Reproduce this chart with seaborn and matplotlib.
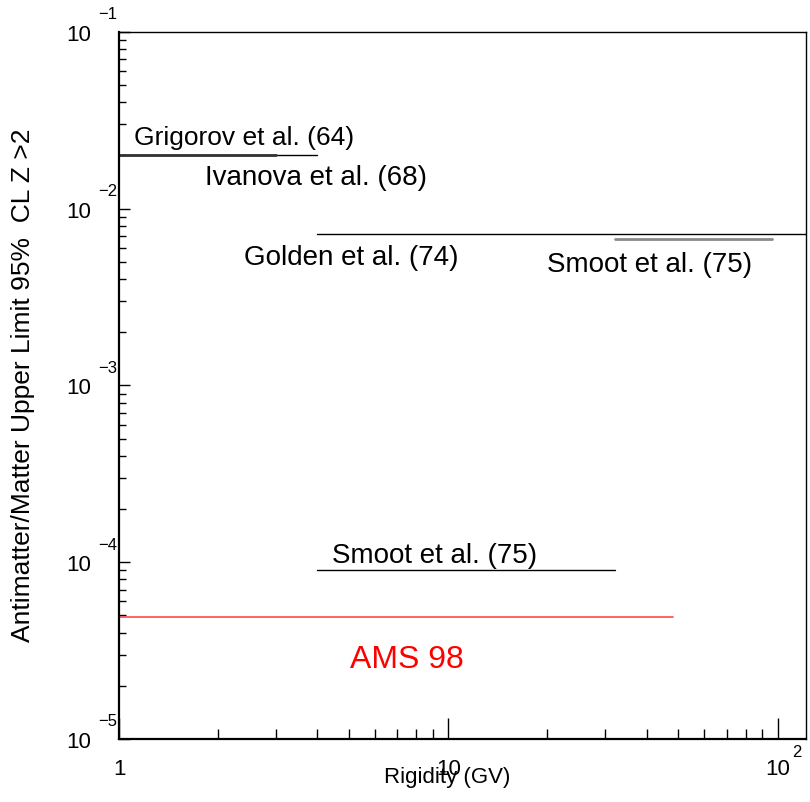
import numpy as np
import pandas as pd
import matplotlib
matplotlib.use("Agg")
import matplotlib.pyplot as plt
import seaborn as sns

# upper limits on antimatter/matter (Z>2), 95% CL
experiments = ["Grigorov et al. (64)", "Ivanova et al. (68)", "Golden et al. (74)",
               "Smoot et al. (75)", "Smoot et al. (75)", "AMS 98"]
rig_lo = [1.0, 1.0, 4.0, 32.0, 4.0, 1.0]
rig_hi = [3.0, 4.0, 200.0, 96.0, 32.0, 48.0]
limits = [2.0e-2, 2.0e-2, 7.2e-3, 6.75e-3, 9.0e-5, 4.9e-5]

# label anchors (left, baseline)
label_x = [1.11, 1.82, 2.40, 19.9, 4.43, 5.03]
label_y = [2.32e-2, 1.38e-2, 4.86e-3, 4.45e-3, 1.0e-4, 2.55e-5]

x_ticks = [1, 10, 100]
x_tick_text = ["1", "10", "10"]
x_tick_exp = ["", "", "2"]
y_ticks = [1e-5, 1e-4, 1e-3, 1e-2, 1e-1]
y_tick_exp = ["\u22125", "\u22124", "\u22123", "\u22122", "\u22121"]

sns.set_style("ticks", {"axes.edgecolor": "black", "xtick.color": "black",
                        "ytick.color": "black", "text.color": "black",
                        "axes.labelcolor": "black"})
plt.rcParams["font.family"] = ["Liberation Sans", "DejaVu Sans"]
narrow = ["Liberation Sans Narrow", "Liberation Sans", "DejaVu Sans"]

fig = plt.figure(figsize=(8.1, 8.03), dpi=100)
ax = fig.add_axes([0.147, 0.0785, 0.848, 0.8805])

# line styles per experiment
colors = ["#333333", "black", "black", "#8a8a8a", "black", "#ff4a4a"]
widths = [2.0, 1.0, 1.0, 2.0, 1.0, 1.2]
txt_colors = ["black"] * 5 + ["red"]
txt_sizes = [19, 20, 20, 20, 20, 23]

# draw thin ones first so the thicker Grigorov segment sits on top
order = [1, 0, 2, 3, 4, 5]
for i in order:
    df = pd.DataFrame({"rig": [rig_lo[i], rig_hi[i]], "lim": [limits[i], limits[i]]})
    sns.lineplot(data=df, x="rig", y="lim", ax=ax, color=colors[i], lw=widths[i],
                 estimator=None, sort=False)

for i, name in enumerate(experiments):
    ax.text(label_x[i], label_y[i], name, color=txt_colors[i], fontsize=txt_sizes[i],
            ha="left", va="baseline")

ax.set_xscale("log")
ax.set_yscale("log")
ax.set_xlim(1, 122)
ax.set_ylim(1e-5, 1e-1)

# ROOT style frame and ticks
for s in ["left", "bottom"]:
    ax.spines[s].set_linewidth(1.6)
for s in ["top", "right"]:
    ax.spines[s].set_linewidth(1.0)
ax.tick_params(axis="x", which="major", direction="in", length=15, width=1, top=False)
ax.tick_params(axis="x", which="minor", direction="in", length=7, width=1, top=False)
ax.tick_params(axis="y", which="major", direction="in", length=8, width=1, right=False)
ax.tick_params(axis="y", which="minor", direction="in", length=5, width=1, right=False)
ax.xaxis.set_minor_locator(matplotlib.ticker.LogLocator(base=10, subs=np.arange(2, 10)))
ax.yaxis.set_minor_locator(matplotlib.ticker.LogLocator(base=10, subs=np.arange(2, 10)))

ax.set_xticks(x_ticks)
ax.set_xticklabels(x_tick_text, fontsize=16, color="black")
ax.xaxis.set_minor_formatter(matplotlib.ticker.NullFormatter())
ax.tick_params(axis="x", which="major", pad=14)
ax.set_yticks(y_ticks)
ax.set_yticklabels(["10"] * len(y_ticks), fontsize=16, color="black")
ax.yaxis.set_minor_formatter(matplotlib.ticker.NullFormatter())
ax.tick_params(axis="y", which="major", pad=20)

# exponents placed ROOT-like, above right of the mantissa
for v, e in zip(y_ticks, y_tick_exp):
    ax.annotate(e, xy=(0, v), xycoords=("axes fraction", "data"), xytext=(-1, 13),
                textcoords="offset points", ha="right", va="center", fontsize=12,
                color="black")
for v, e in zip(x_ticks, x_tick_exp):
    if e:
        ax.annotate(e, xy=(v, 0), xycoords=("data", "axes fraction"), xytext=(14, -9),
                    textcoords="offset points", ha="center", va="center", fontsize=12,
                    color="black")

ax.set_xlabel("Rigidity (GV)", fontsize=16, family=narrow, color="black")
ax.xaxis.set_label_coords(0.478, -0.038)
ax.set_ylabel("Antimatter/Matter Upper Limit 95%  CL Z >2", fontsize=19, family=narrow,
              color="black")
ax.yaxis.set_label_coords(-0.122, 0.502)

fig.savefig("out.png", dpi=100)
